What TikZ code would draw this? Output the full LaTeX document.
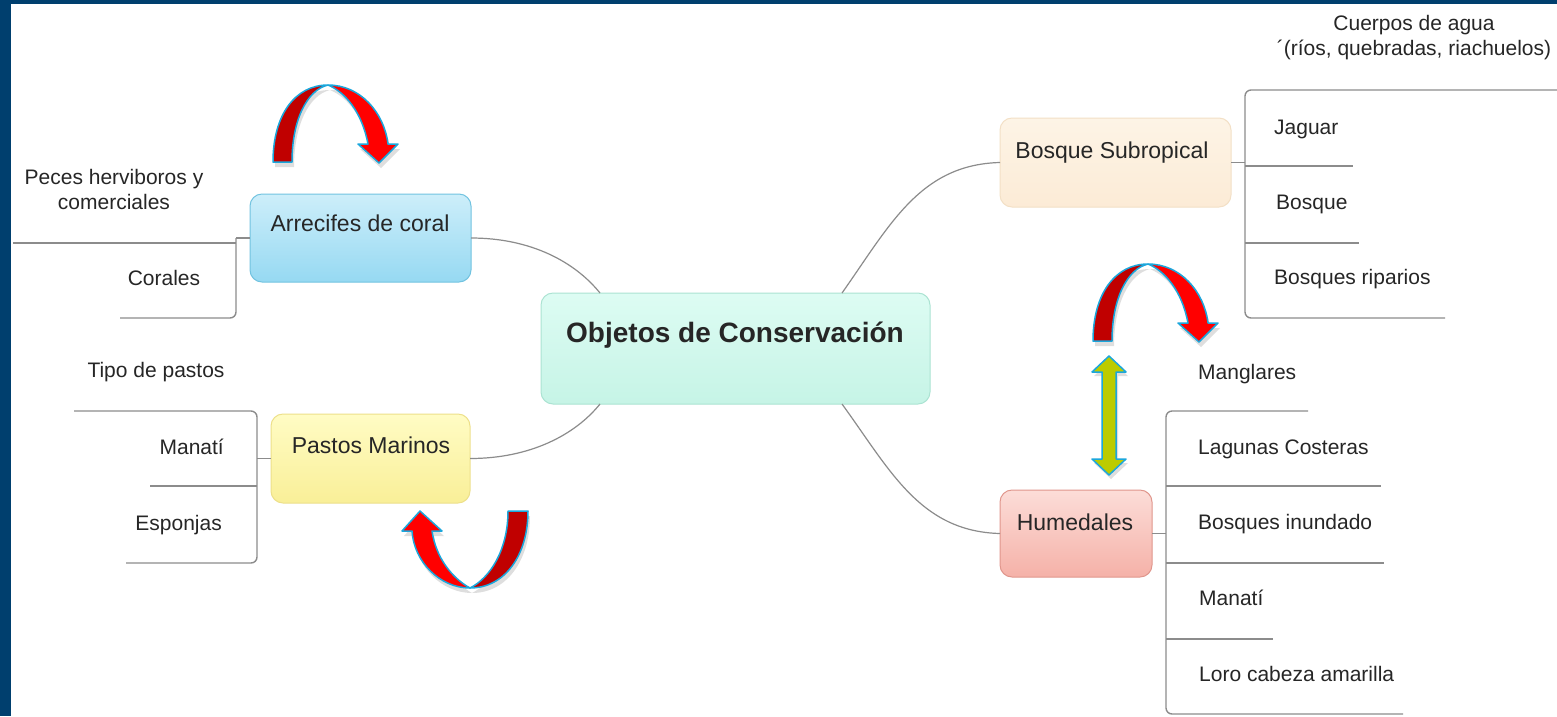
\documentclass[tikz,border=0pt]{standalone}
\usepackage{fontspec}
\setmainfont{Liberation Sans}
\definecolor{frame}{HTML}{003F6E}
\definecolor{linegray}{HTML}{8C8C8C}
\definecolor{txt}{HTML}{262626}
\definecolor{cenT}{HTML}{DDFCF3}
\definecolor{cenBt}{HTML}{C6F4E6}
\definecolor{cenB}{HTML}{ABE3D2}
\definecolor{arrT}{HTML}{CDEEFA}
\definecolor{arrBt}{HTML}{96D9F2}
\definecolor{arrB}{HTML}{72C3E0}
\definecolor{pasT}{HTML}{FFFCC4}
\definecolor{pasBt}{HTML}{F9EF98}
\definecolor{pasB}{HTML}{EDE08A}
\definecolor{bosT}{HTML}{FDF4E6}
\definecolor{bosBt}{HTML}{FCEBD6}
\definecolor{bosB}{HTML}{F3E0C6}
\definecolor{humT}{HTML}{FCDDD8}
\definecolor{humBt}{HTML}{F5B1A8}
\definecolor{humB}{HTML}{E0968C}
\definecolor{arrblue}{HTML}{1BA7DC}
\definecolor{darkred}{HTML}{C00000}
\definecolor{brightred}{HTML}{FF0000}
\definecolor{ygreen}{HTML}{BCCB00}
\begin{document}
\begin{tikzpicture}[x=1pt,y=-1pt,
  conn/.style={draw=linegray, line width=1.2pt},
  br/.style={draw=linegray, line width=1.4pt, rounded corners=6pt},
  leaf/.style={font=\fontsize{21}{25}\selectfont, text=txt, inner sep=0pt, text height=15pt, text depth=0pt},
  blabel/.style={font=\fontsize{23}{27}\selectfont, text=txt, inner sep=0pt, text height=16.5pt, text depth=0pt},
  box/.style={rounded corners=12pt, line width=1pt, inner sep=0pt, outer sep=0pt},
  arrline/.style={draw=arrblue, line width=1.5pt, line join=round},
  shad/.style={fill=black, opacity=0.13, draw=none},
  arcarrow/.pic={
    \fill[shad, shift={(2,5)}] (273,162) .. controls (273,115) and (295,85) .. (328,85)
         .. controls (360,85) and (384,112) .. (388,144)
         -- (398,144) -- (379,163) -- (358,144) -- (368,144)
         .. controls (362,112) and (345,92) .. (328,85)
         .. controls (307,90) and (292,120) .. (292,162) -- cycle;
    \fill[darkred, arrline] (273,162) .. controls (273,115) and (295,85) .. (328,85)
         .. controls (307,90) and (292,120) .. (292,162) -- cycle;
    \fill[brightred, arrline] (328,85) .. controls (360,85) and (384,112) .. (388,144)
         -- (398,144) -- (379,163) -- (358,144) -- (368,144)
         .. controls (362,112) and (345,92) .. (328,85) -- cycle;
  }
]
\useasboundingbox (0,0) rectangle (1557,716);
\fill[white] (0,0) rectangle (1557,716);
\fill[frame] (0,0) rectangle (11,716);
\fill[frame] (0,0) rectangle (1557,4);

% main boxes
\node[box, minimum width=389pt, minimum height=111pt, draw=cenB, top color=cenT, bottom color=cenBt] (cen) at (735.5,348.5) {};
\node[box, minimum width=221pt, minimum height=88pt, draw=arrB, top color=arrT, bottom color=arrBt] (arr) at (360.5,238) {};
\node[box, minimum width=199pt, minimum height=89pt, draw=pasB, top color=pasT, bottom color=pasBt] (pas) at (370.5,458.5) {};
\node[box, minimum width=231pt, minimum height=89pt, draw=bosB, top color=bosT, bottom color=bosBt] (bos) at (1115.5,162.5) {};
\node[box, minimum width=152pt, minimum height=87pt, draw=humB, top color=humT, bottom color=humBt] (hum) at (1076,533.5) {};

\node[blabel, font=\bfseries\fontsize{28}{32}\selectfont, text height=20pt] (centl) at (735,332) {Objetos de Conservación};
\node[blabel] (arrl) at (360,223) {Arrecifes de coral};
\node[blabel] (pasl) at (371,445) {Pastos Marinos};
\node[blabel] (bosl) at (1112,150) {Bosque Subropical};
\node[blabel] (huml) at (1075,522) {Humedales};

% connectors from the centre
\draw[conn] (arr.east) .. controls +(60,0) and +(-25,-31) .. ([xshift=-135.5pt]cen.north);
\draw[conn] (pas.east) .. controls +(60,0) and +(-25,31) .. ([xshift=-135.5pt]cen.south);
\draw[conn] (bos.west) .. controls +(-80,2) and +(48,-68) .. ([xshift=106.5pt]cen.north);
\draw[conn] (hum.west) .. controls +(-80,-2) and +(48,66) .. ([xshift=106.5pt]cen.south);

% Arrecifes branch
\coordinate (ja) at (236,238);
\draw[conn, line width=1.4pt] (arr.west) -- (ja);
\draw[br] (ja) -- (236,318) -- (120,318);
\draw[br] (13,243) -- (236,243);
\node[leaf, align=center] (peces) at (114,202) {Peces herviboros y\\comerciales};
\node[leaf] (corales) at (164,278) {Corales};

% Pastos branch
\coordinate (jp) at (257,458.5);
\draw[conn, line width=1.4pt] (pas.west) -- (jp);
\draw[br] (74,411) -- (257,411) -- (257,563) -- (126,563);
\draw[br] (150,486) -- (257,486);
\node[leaf] (tipo) at (156,370) {Tipo de pastos};
\node[leaf, anchor=east] (manati1) at (224,447) {Manatí};
\node[leaf, anchor=east] (esponjas) at (222,523) {Esponjas};

% Bosque branch
\coordinate (jb) at (1245,162.5);
\draw[conn, line width=1.4pt] (bos.east) -- (jb);
\draw[br] (1557,90) -- (1245,90) -- (1245,318) -- (1445,318);
\draw[br] (1245,166) -- (1353,166);
\draw[br] (1245,243) -- (1359,243);
\node[leaf, align=center] (cuerpos) at (1414,48) {Cuerpos de agua\\´(ríos, quebradas, riachuelos)};
\node[leaf, anchor=west] (jaguar) at (1274,127) {Jaguar};
\node[leaf, anchor=west] (bosque) at (1276,202) {Bosque};
\node[leaf, anchor=west] (riparios) at (1274,277) {Bosques riparios};

% Humedales branch
\coordinate (jh) at (1166,533.5);
\draw[conn, line width=1.4pt] (hum.east) -- (jh);
\draw[br] (1308,411) -- (1166,411) -- (1166,714) -- (1403,714);
\draw[br] (1166,486) -- (1381,486);
\draw[br] (1166,563) -- (1384,563);
\draw[br] (1166,639) -- (1273,639);
\node[leaf, anchor=west] (manglares) at (1198,372) {Manglares};
\node[leaf, anchor=west] (lagunas) at (1198,447) {Lagunas Costeras};
\node[leaf, anchor=west] (inundado) at (1198,522) {Bosques inundado};
\node[leaf, anchor=west] (manati2) at (1199,598) {Manatí};
\node[leaf, anchor=west] (loro) at (1199,674) {Loro cabeza amarilla};

% curved arrows
\pic at (0,0) {arcarrow};
\pic at (820,179) {arcarrow};

% U-shaped arrow under Pastos Marinos
\fill[shad, shift={(2,5)}] (528,511) .. controls (528,555) and (505,588) .. (470,588)
     .. controls (440,588) and (414,562) .. (412,531)
     -- (402,531) -- (420,511) -- (442,531) -- (432,531)
     .. controls (436,558) and (452,578) .. (470,588)
     .. controls (490,578) and (508,550) .. (508,511) -- cycle;
\fill[darkred, arrline] (528,511) .. controls (528,555) and (505,588) .. (470,588)
     .. controls (490,578) and (508,550) .. (508,511) -- cycle;
\fill[brightred, arrline] (470,588) .. controls (440,588) and (414,562) .. (412,531)
     -- (402,531) -- (420,511) -- (442,531) -- (432,531)
     .. controls (436,558) and (452,578) .. (470,588) -- cycle;

% double arrow
\fill[shad, shift={(2,4)}] (1109,356) -- (1126,372) -- (1116,372) -- (1116,459) -- (1126,459)
     -- (1109,475) -- (1092,459) -- (1102,459) -- (1102,372) -- (1092,372) -- cycle;
\fill[ygreen, arrline] (1109,356) -- (1126,372) -- (1116,372) -- (1116,459) -- (1126,459)
     -- (1109,475) -- (1092,459) -- (1102,459) -- (1102,372) -- (1092,372) -- cycle;
\end{tikzpicture}
\end{document}
